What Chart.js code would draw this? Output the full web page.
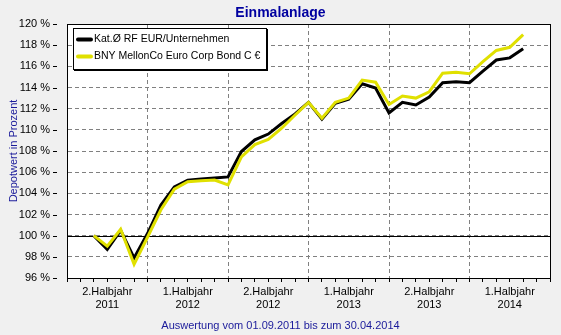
<!DOCTYPE html>
<html>
<head>
<meta charset="utf-8">
<script src="https://cdn.jsdelivr.net/npm/chart.js@4"></script>
<style>
    html, body { margin: 0; padding: 0; background: #f0f0f0; }
    #wrap { width: 561px; height: 335px; }
</style>
</head>
<body>
<div id="wrap"><canvas id="depotChart" width="561" height="335"></canvas></div>
<script>
// Monthly values (in % of the initial investment), first value on 01.09.2011
const firstMonth = 2; // months after 01.07.2011
const katValues = [
    100.0, 98.7, 100.5, 97.9, 100.2, 102.9, 104.6, 105.25, 105.35, 105.45, 105.55,
    107.95, 109.05, 109.6, 110.6, 111.5, 112.6, 111.0, 112.5, 112.9, 114.35, 113.95,
    111.6, 112.6, 112.35, 113.1, 114.45, 114.55, 114.45, 115.55, 116.6, 116.8, 117.65
];
const bnyValues = [
    100.0, 99.0, 100.6, 97.3, 99.85, 102.45, 104.4, 105.1, 105.2, 105.25, 104.8,
    107.45, 108.6, 109.1, 110.15, 111.4, 112.6, 111.1, 112.6, 113.0, 114.7, 114.5,
    112.4, 113.2, 113.0, 113.6, 115.35, 115.45, 115.3, 116.45, 117.5, 117.8, 119.0
];
const seriesNames = ['Kat.\u00d8 RF EUR/Unternehmen', 'BNY MellonCo Euro Corp Bond C \u20ac'];
const halfYearNames = ['2.Halbjahr', '1.Halbjahr', '2.Halbjahr', '1.Halbjahr', '2.Halbjahr', '1.Halbjahr'];
const halfYearYears = ['2011', '2012', '2012', '2013', '2013', '2014'];
const yTicks = [96, 98, 100, 102, 104, 106, 108, 110, 112, 114, 116, 118, 120];

const chartTitle = 'Einmalanlage';
const yAxisTitle = 'Depotwert in Prozent';
const periodText = 'Auswertung vom 01.09.2011 bis zum 30.04.2014';

const fontFamily = '"Liberation Sans", Arial, sans-serif';
const gridGray = '#808080';
const textBlue = '#1a1a9a';

function toPoints(values) {
    return values.map((v, i) => ({ x: firstMonth + i, y: v }));
}

// Frame, white plot background, 100 % line, texts and legend box
const decorations = {
    id: 'decorations',
    beforeDraw(chart) {
        const { ctx, chartArea: a } = chart;
        ctx.save();
        ctx.fillStyle = '#ffffff';
        ctx.fillRect(a.left, a.top, a.right - a.left, a.bottom - a.top);
        ctx.restore();
    },
    beforeDatasetsDraw(chart) {
        const { ctx, chartArea: a, scales } = chart;
        ctx.save();
        // solid base line at 100 %
        const y100 = Math.round(scales.y.getPixelForValue(100)) + 0.5;
        ctx.strokeStyle = '#000';
        ctx.lineWidth = 1;
        ctx.beginPath();
        ctx.moveTo(a.left, y100);
        ctx.lineTo(a.right, y100);
        ctx.stroke();
        // frame
        ctx.strokeRect(Math.round(a.left) + 0.5, Math.round(a.top) + 0.5,
            Math.round(a.right - a.left), Math.round(a.bottom - a.top));
        // short marks next to the y labels
        scales.y.ticks.forEach(t => {
            const y = Math.round(scales.y.getPixelForValue(t.value)) + 0.5;
            ctx.beginPath();
            ctx.moveTo(a.left - 14, y);
            ctx.lineTo(a.left - 10, y);
            ctx.stroke();
        });
        ctx.restore();
    },
    afterDraw(chart) {
        const { ctx, chartArea: a, width } = chart;
        ctx.save();
        // title
        ctx.fillStyle = '#0000a0';
        ctx.font = 'bold 14px ' + fontFamily;
        ctx.textAlign = 'center';
        ctx.textBaseline = 'alphabetic';
        ctx.fillText(chartTitle, width / 2, 17);
        // footer
        ctx.fillStyle = textBlue;
        ctx.font = '11px ' + fontFamily;
        ctx.fillText(periodText, width / 2, 329);
        // y axis title
        ctx.translate(14, (a.top + a.bottom) / 2);
        ctx.rotate(-Math.PI / 2);
        ctx.textBaseline = 'middle';
        ctx.fillText(yAxisTitle, 0, 0);
        ctx.restore();

        // legend
        ctx.save();
        ctx.font = '10.5px ' + fontFamily;
        const bx = a.left + 6, by = a.top + 4;
        const textX = bx + 21;
        const textW = Math.max(...seriesNames.map(s => ctx.measureText(s).width));
        const bw = Math.round(textX - bx + textW + 6), bh = 41;
        ctx.fillStyle = '#ffffff';
        ctx.fillRect(bx, by, bw, bh);
        ctx.fillStyle = '#000';
        ctx.fillRect(bx + bw, by + 1, 2, bh + 1);
        ctx.fillRect(bx + 1, by + bh, bw + 1, 2);
        ctx.strokeStyle = '#000';
        ctx.lineWidth = 1;
        ctx.strokeRect(bx + 0.5, by + 0.5, bw, bh);
        ctx.textAlign = 'left';
        ctx.textBaseline = 'middle';
        chart.data.datasets.forEach((ds, i) => {
            const y = by + 11.5 + i * 17;
            ctx.strokeStyle = ds.borderColor;
            ctx.lineWidth = 4;
            ctx.lineCap = 'round';
            ctx.beginPath();
            ctx.moveTo(bx + 5, y);
            ctx.lineTo(bx + 18, y);
            ctx.stroke();
            ctx.fillStyle = '#000';
            ctx.fillText(seriesNames[i], textX, y);
        });
        ctx.restore();
    }
};

function renderChart() {
    const ctx = document.getElementById('depotChart').getContext('2d');
    new Chart(ctx, {
        type: 'line',
        data: {
            datasets: [
                {
                    label: seriesNames[0],
                    data: toPoints(katValues),
                    borderColor: '#000000',
                    borderWidth: 3,
                    pointRadius: 0,
                    tension: 0,
                    order: 1
                },
                {
                    label: seriesNames[1],
                    data: toPoints(bnyValues),
                    borderColor: '#e0e000',
                    borderWidth: 3,
                    pointRadius: 0,
                    tension: 0,
                    order: 0
                }
            ]
        },
        options: {
            responsive: false,
            animation: false,
            layout: { padding: { top: 24, right: 11, left: 0, bottom: 0 } },
            plugins: {
                legend: { display: false },
                tooltip: { enabled: false },
                title: { display: false }
            },
            scales: {
                x: {
                    type: 'linear',
                    min: 0,
                    max: 36,
                    afterFit(scale) { scale.height = 57; },
                    ticks: {
                        stepSize: 1,
                        autoSkip: false,
                        maxRotation: 0,
                        padding: 3,
                        color: '#000',
                        font: { family: fontFamily, size: 11 },
                        callback(value) {
                            if (value % 6 !== 3) return '';
                            const h = (value - 3) / 6;
                            return [halfYearNames[h], halfYearYears[h]];
                        }
                    },
                    grid: {
                        color(c) {
                            const v = c.tick && c.tick.value;
                            return (v % 6 === 0 && v > 0 && v < 36) ? gridGray : 'rgba(0,0,0,0)';
                        },
                        tickColor: '#000',
                        tickLength: 4,
                        tickBorderDash: [],
                        lineWidth: 1
                    },
                    border: { display: true, color: '#000', dash: [4, 3] }
                },
                y: {
                    min: 96,
                    max: 120,
                    afterFit(scale) { scale.width = 67; },
                    afterBuildTicks(scale) { scale.ticks = yTicks.map(v => ({ value: v })); },
                    ticks: {
                        padding: 17,
                        color: '#000',
                        font: { family: fontFamily, size: 11 },
                        callback: v => v + ' %'
                    },
                    grid: {
                        drawTicks: false,
                        color(c) {
                            const v = c.tick && c.tick.value;
                            return (v === 96 || v === 120) ? 'rgba(0,0,0,0)' : gridGray;
                        },
                        lineWidth: 1
                    },
                    border: { display: true, color: '#000', dash: [4, 3] }
                }
            }
        },
        plugins: [decorations]
    });
}

renderChart();
</script>
</body>
</html>
